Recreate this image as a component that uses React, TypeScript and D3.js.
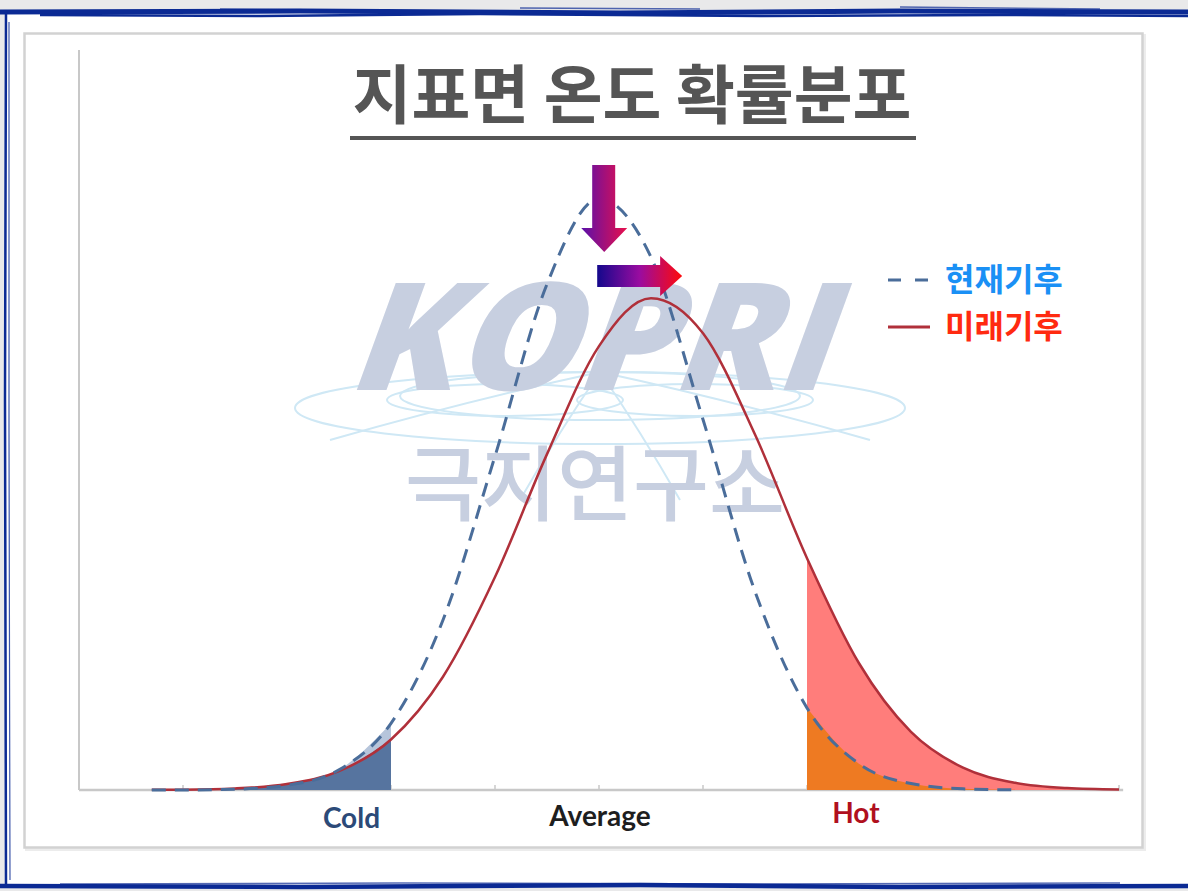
import * as d3 from "d3";

// temperature steps (axis units, one tick = 1)
const tempSteps = [-0.3, 0, 0.5, 1, 1.5, 2, 2.5, 3, 3.5, 4, 4.5, 5, 5.5, 6, 6.5, 7, 7.5, 8, 8.5, 9];
// 현재기후 (dashed)
const currentClimate = [0, 0, 0.0011, 0.0064, 0.0273, 0.0901, 0.2297, 0.4511, 0.6836, 0.799, 0.7201, 0.5006, 0.2683, 0.1109, 0.0354, 0.0087, 0.0016, 0.0002];
// 미래기후 (solid)
const futureClimate = [0.0003, 0.0005, 0.0021, 0.008, 0.0254, 0.0682, 0.1531, 0.2878, 0.4539, 0.5999, 0.6646, 0.6171, 0.4803, 0.3133, 0.1713, 0.0785, 0.0301, 0.0097, 0.0026, 0.0006];

const axisTicks = [0, 1, 2, 3, 4, 5, 6, 7, 8, 9];
const coldLimit = 2;
const hotLimit = 6;
const currentPeak = 4.05;
const futurePeak = 4.54;

const categoryLabels = ["Cold", "Average", "Hot"];
const categoryPos = [1.62, 4.01, 6.47];
const categoryColors = ["#2c4a78", "#1e1e1e", "#b0101e"];

const legendLabels = ["현재기후", "미래기후"];
const legendColors = ["#1a90f5", "#ff2a10"];

const title = "지표면 온도 확률분포";

type P = [number, number];

export default function App() {
  const W = 1188;
  const H = 891;
  const x = d3.scaleLinear().domain([-1, 9]).range([79, 1119]);
  const y = d3.scaleLinear().domain([0, 1]).range([790, 50]);

  const cur: P[] = currentClimate.map((v, i) => [tempSteps[i], v]);
  const fut: P[] = futureClimate.map((v, i) => [tempSteps[i], v]);

  const line = d3
    .line<P>()
    .x((d) => x(d[0]))
    .y((d) => y(d[1]))
    .curve(d3.curveMonotoneX);
  const area = d3
    .area<P>()
    .x((d) => x(d[0]))
    .y0(y(0))
    .y1((d) => y(d[1]))
    .curve(d3.curveMonotoneX);

  const coldCur = cur.filter((d) => d[0] <= coldLimit);
  const coldFut = fut.filter((d) => d[0] <= coldLimit);
  const hotCur = cur.filter((d) => d[0] >= hotLimit);
  const hotFut = fut.filter((d) => d[0] >= hotLimit);

  // arrows
  const dx = x(currentPeak);
  const downArrow = [
    [dx - 12, 165],
    [dx + 11, 165],
    [dx + 11, 228],
    [dx + 23, 228],
    [dx, 252],
    [dx - 23, 228],
    [dx - 12, 228],
  ];
  const rx0 = x(currentPeak) - 7;
  const rTip = x(futurePeak) + 27;
  const rArrow = [
    [rx0, 265],
    [rTip - 22, 265],
    [rTip - 22, 256],
    [rTip, 276],
    [rTip - 22, 296],
    [rTip - 22, 287],
    [rx0, 287],
  ];
  const pts = (a: number[][]) => a.map((p) => p.join(",")).join(" ");

  const blue = "#0b2a94";
  const wm = "#c7cfe0";
  const globe = "#cfe8f5";

  return (
    <svg
      width={W}
      height={H}
      style={{ position: "absolute", left: 0, top: 0, display: "block" }}
      fontFamily="'Noto Sans CJK KR', 'Noto Sans', sans-serif"
    >
      <defs>
        <linearGradient id="downGrad" x1="0" y1="0" x2="1" y2="0">
          <stop offset="0%" stopColor="#5a10aa" />
          <stop offset="100%" stopColor="#e8104c" />
        </linearGradient>
        <linearGradient id="rightGrad" x1="0" y1="0" x2="1" y2="0">
          <stop offset="0%" stopColor="#14088c" />
          <stop offset="50%" stopColor="#9a0ca0" />
          <stop offset="100%" stopColor="#ff0a0a" />
        </linearGradient>
      </defs>

      {/* page + rough blue frame */}
      <rect x={0} y={0} width={W} height={H} fill="#e9e9ea" />
      <rect x={5} y={12} width={W - 5} height={874} fill="#ffffff" />
      <path d={`M0,12 L300,11 L620,13 L900,11 L1188,12`} stroke={blue} strokeWidth={5} fill="none" />
      <path d={`M40,15 L260,16 L480,14 L760,16 L1000,15 L1188,16`} stroke={blue} strokeWidth={2.5} fill="none" />
      <path d={`M220,9 L330,10 M520,8 L700,9 M900,7 L1100,9`} stroke={blue} strokeWidth={1.5} fill="none" opacity={0.7} />
      <path d={`M6,12 L5,400 L6,886`} stroke={blue} strokeWidth={2.5} fill="none" />
      <path d={`M9,22 L9,430 L10,880`} stroke={blue} strokeWidth={1.2} fill="none" opacity={0.8} />
      <path d={`M0,886 L300,887 L640,885 L900,887 L1188,886`} stroke={blue} strokeWidth={4.5} fill="none" />
      <path d={`M60,884 L400,883 L760,884 L1120,883`} stroke={blue} strokeWidth={1.5} fill="none" opacity={0.7} />

      {/* inner panel */}
      <rect x={26.5} y={35.5} width={1118} height={814} fill="none" stroke="#ececec" strokeWidth={3} />
      <rect x={24.5} y={33.5} width={1118} height={814} fill="#ffffff" stroke="#d2d2d2" strokeWidth={2.5} />

      {/* axes */}
      <line x1={x(-1)} x2={x(-1)} y1={50} y2={y(0)} stroke="#c8c8c8" strokeWidth={2} />
      <line x1={x(-1)} x2={x(9.04)} y1={y(0)} y2={y(0)} stroke="#c8c8c8" strokeWidth={2.5} />
      {axisTicks.map((t) => (
        <line key={t} x1={x(t)} x2={x(t)} y1={y(0)} y2={y(0) - 5} stroke="#c8c8c8" strokeWidth={1.5} />
      ))}

      {/* KOPRI watermark */}
      <g fill="none" stroke={globe} strokeWidth={2}>
        <ellipse cx={600} cy={408} rx={305} ry={36} />
        <ellipse cx={600} cy={396} rx={200} ry={24} />
        <ellipse cx={505} cy={400} rx={118} ry={16} />
        <ellipse cx={695} cy={400} rx={118} ry={16} />
        <path d="M600,372 Q560,430 520,500 M600,372 Q640,430 680,500 M600,372 Q470,400 330,440 M600,372 Q730,400 870,440" />
      </g>
      <g transform="translate(345,390) skewX(-20)">
        <text
          x={0}
          y={0}
          fontFamily="'Open Sans', 'DejaVu Sans', sans-serif"
          fontWeight={800}
          fontSize={150}
          fill={wm}
          textLength={480}
          lengthAdjust="spacingAndGlyphs"
        >
          KOPRI
        </text>
      </g>
      <text
        x={405}
        y={514}
        fontSize={82}
        fontWeight={500}
        fill={wm}
        textLength={380}
        lengthAdjust="spacingAndGlyphs"
      >
        극지연구소
      </text>

      {/* shaded tails */}
      <path d={area(coldCur) || ""} fill="#b6c5db" />
      <path d={area(coldFut) || ""} fill="#56749f" />
      <path d={area(hotFut) || ""} fill="#ff7d7b" />
      <path d={area(hotCur) || ""} fill="#ee7a22" />

      {/* curves */}
      <path d={line(fut) || ""} fill="none" stroke="#b0303a" strokeWidth={2.5} />
      <path d={line(cur) || ""} fill="none" stroke="#4a6d9a" strokeWidth={3} strokeDasharray="14 9" />

      {/* arrows */}
      <polygon points={pts(downArrow)} fill="url(#downGrad)" />
      <polygon points={pts(rArrow)} fill="url(#rightGrad)" />

      {/* title */}
      <text x={632} y={118} textAnchor="middle" fontSize={64} fontWeight={700} fill="#555555">
        {title}
      </text>
      <rect x={350} y={136} width={566} height={4} fill="#555555" />

      {/* legend */}
      <line x1={888} x2={932} y1={280} y2={280} stroke="#4a6d9a" strokeWidth={3} strokeDasharray="13 14" />
      <line x1={888} x2={930} y1={327} y2={327} stroke="#b0303a" strokeWidth={3} />
      {legendLabels.map((l, i) => (
        <text key={l} x={945} y={291 + i * 47} fontSize={32} fontWeight={700} fill={legendColors[i]}>
          {l}
        </text>
      ))}

      {/* category labels */}
      {categoryLabels.map((l, i) => (
        <text
          key={l}
          x={x(categoryPos[i])}
          y={[828, 826, 823][i]}
          textAnchor="middle"
          fontFamily="Lato, 'Open Sans', sans-serif"
          fontWeight={700}
          fontSize={28}
          fill={categoryColors[i]}
        >
          {l}
        </text>
      ))}
    </svg>
  );
}
